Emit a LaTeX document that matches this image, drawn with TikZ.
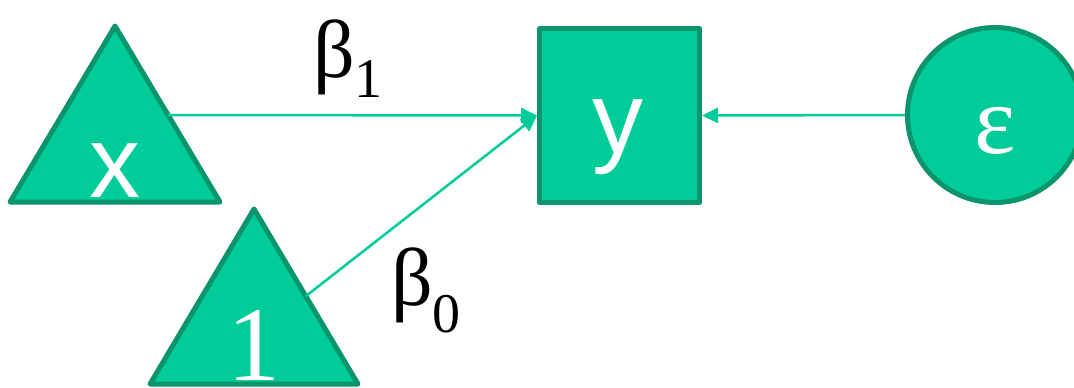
\documentclass[tikz,border=0pt]{standalone}
\usepackage{fontspec}
\setmainfont{Liberation Serif}
\setsansfont{Liberation Sans}
\usetikzlibrary{arrows.meta}
\definecolor{fillg}{RGB}{0,204,153}
\definecolor{edgeg}{RGB}{12,148,108}
\begin{document}
\begin{tikzpicture}[x=1pt,y=-1pt,
  shapeb/.style={fill=fillg,draw=edgeg,line width=5pt,line join=round},
  conn/.style={draw=fillg,line width=2.5pt,-{Triangle[length=16pt,width=15pt]}},
  lbl/.style={inner sep=0,anchor=base,text=white},
  coef/.style={inner sep=0,anchor=base west,text=black}]
\useasboundingbox (0,0) rectangle (1074,388);
\begin{scope}
\clip (0,0) rectangle (1074,388);
% triangles
\draw[shapeb] (115,26) -- (220,202) -- (10,202) -- cycle;
\draw[shapeb] (254,209) -- (358,384) -- (150,384) -- cycle;
\coordinate (xr) at (168,115);
\coordinate (oner) at (306,296);
% square and circle
\node[shapeb,minimum width=160pt,minimum height=174pt,inner sep=0] (y) at (619.5,115.5) {};
\node[shapeb,circle,minimum size=175pt,inner sep=0] (e) at (995,115) {};
% labels in shapes
\node[lbl] (xl) at (115,197) {\sffamily\fontsize{102}{102}\selectfont x};
\node[lbl] (yl) at (618,153) {\sffamily\fontsize{102}{102}\selectfont y};
\node[lbl] (onel) at (254,380) {\rmfamily\fontsize{106}{106}\selectfont 1};
\node[lbl] (el) at (995,153) {\rmfamily\fontsize{98}{98}\selectfont ε};
% connectors
\draw[conn] (xr) -- (y.west);
\draw[conn] (oner) -- (y.west);
\draw[conn] (e.west) -- (y.east);
% coefficients
\node[coef] (b1) at (313,77) {\rmfamily\fontsize{82}{82}\selectfont β\raisebox{-20pt}{\fontsize{56}{56}\selectfont 1}};
\node[coef] (b0) at (391,305) {\rmfamily\fontsize{82}{82}\selectfont β\raisebox{-27pt}{\fontsize{56}{56}\selectfont 0}};
\end{scope}
\end{tikzpicture}
\end{document}
